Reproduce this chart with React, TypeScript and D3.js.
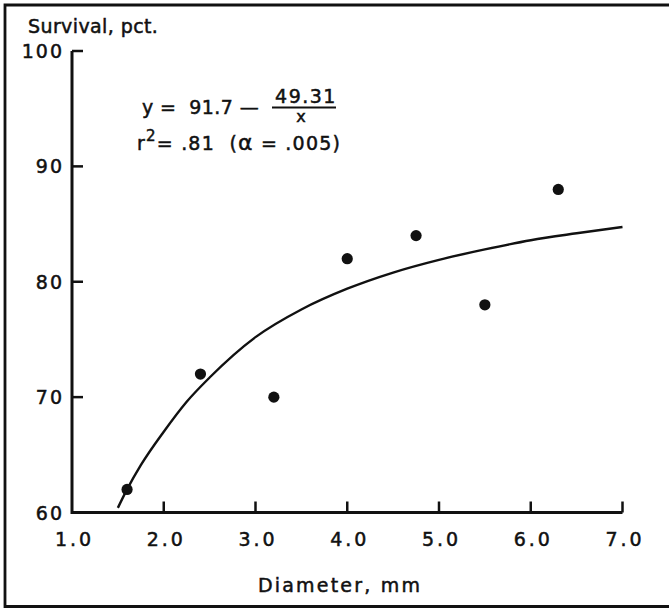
import React from "react";
import * as d3 from "d3";

// ---- data ----
const diameters = [1.6, 2.4, 3.2, 4.0, 4.75, 5.5, 6.3];
const survival = [62, 72, 70, 82, 84, 78, 88];

// fitted curve as drawn
const fitX = [1.5, 1.6, 1.75, 2.0, 2.25, 2.5, 3.0, 3.5, 4.0, 4.5, 5.0, 5.5, 6.0, 6.5, 7.0];
const fitY = [60.4, 62.0, 64.1, 67.0, 69.6, 71.7, 75.2, 77.6, 79.4, 80.8, 81.9, 82.8, 83.6, 84.2, 84.75];

const xTicks = [1, 2, 3, 4, 5, 6, 7];
const yTicks = [60, 70, 80, 90, 100];

const yTitle = "Survival, pct.";
const xTitle = "Diameter, mm";
const eqLeft = "y =  91.7 \u2014";
const eqNum = "49.31";
const eqDen = "x";

const W = 669;
const H = 610;
const FONT = "'DejaVu Sans', sans-serif";

export default function App() {
  const x = d3.scaleLinear().domain([1, 7]).range([72, 622.5]);
  const y = d3.scaleLinear().domain([60, 100]).range([512.5, 51]);

  const line = d3
    .line<number>()
    .x((_, i) => x(fitX[i]))
    .y((d) => y(d))
    .curve(d3.curveMonotoneX);

  const txt = {
    fontFamily: FONT,
    fontSize: 19,
    fill: "#111",
    stroke: "#111",
    strokeWidth: 0.5,
    whiteSpace: "pre",
  } as React.CSSProperties;

  const ylLs = 2;
  const xlLs = 3;

  return (
    <svg
      width={W}
      height={H}
      style={{ position: "absolute", left: 0, top: 0, background: "#fff" }}
    >
      <rect x={0} y={0} width={W} height={H} fill="#fff" />
      {/* outer frame (right edge is off-image) */}
      <path
        d={`M ${W + 5} 5 L 5 5 L 5 606.5 L ${W + 5} 606.5`}
        fill="none"
        stroke="#111"
        strokeWidth={2.8}
      />

      {/* axes */}
      <path
        d={`M ${x(1)} ${y(100)} L ${x(1)} ${y(60)} L ${x(7)} ${y(60)}`}
        fill="none"
        stroke="#111"
        strokeWidth={3}
        strokeLinejoin="miter"
      />
      {yTicks.map((t) => (
        <g key={"y" + t}>
          {t !== 60 && (
            <line
              x1={x(1)}
              x2={x(1) + 11}
              y1={y(t)}
              y2={y(t)}
              stroke="#111"
              strokeWidth={2.5}
            />
          )}
          <text
            x={62 + ylLs}
            y={y(t) + 7}
            textAnchor="end"
            style={{ ...txt, letterSpacing: ylLs }}
          >
            {String(t)}
          </text>
        </g>
      ))}
      {xTicks.map((t) => (
        <g key={"x" + t}>
          {t !== 1 && (
            <line
              x1={x(t)}
              x2={x(t)}
              y1={y(60)}
              y2={y(60) - 11}
              stroke="#111"
              strokeWidth={2.5}
            />
          )}
          <text
            x={x(t) + xlLs / 2 + 1}
            y={546}
            textAnchor="middle"
            style={{ ...txt, letterSpacing: xlLs }}
          >
            {t.toFixed(1)}
          </text>
        </g>
      ))}

      {/* fitted curve */}
      <path d={line(fitY) || ""} fill="none" stroke="#111" strokeWidth={2.4} />

      {/* observations */}
      {diameters.map((d, i) => (
        <circle key={i} cx={x(d)} cy={y(survival[i])} r={5.6} fill="#111" />
      ))}

      {/* titles */}
      <text x={28} y={33} style={{ ...txt, letterSpacing: 0.4 }}>
        {yTitle}
      </text>
      <text x={340} y={592} textAnchor="middle" style={{ ...txt, letterSpacing: 2.2 }}>
        {xTitle}
      </text>

      {/* equation */}
      <text x={142} y={113.5} style={{ ...txt, letterSpacing: 0.4 }}>
        {eqLeft}
      </text>
      <text x={306} y={103} textAnchor="middle" style={{ ...txt, letterSpacing: 1.5 }}>
        {eqNum}
      </text>
      <line x1={272} x2={336} y1={107.5} y2={107.5} stroke="#111" strokeWidth={2.2} />
      <text x={301} y={122} textAnchor="middle" style={{ ...txt, fontSize: 16 }}>
        {eqDen}
      </text>
      <text x={137} y={149.5} style={{ ...txt, letterSpacing: 1.2 }}>
        <tspan>r</tspan>
        <tspan dy={-9} fontSize={15}>2</tspan>
        <tspan dy={9}>{"= .81  ("}</tspan>
        <tspan fontSize={22}>{"\u03B1"}</tspan>
        <tspan>{" = .005)"}</tspan>
      </text>
    </svg>
  );
}
